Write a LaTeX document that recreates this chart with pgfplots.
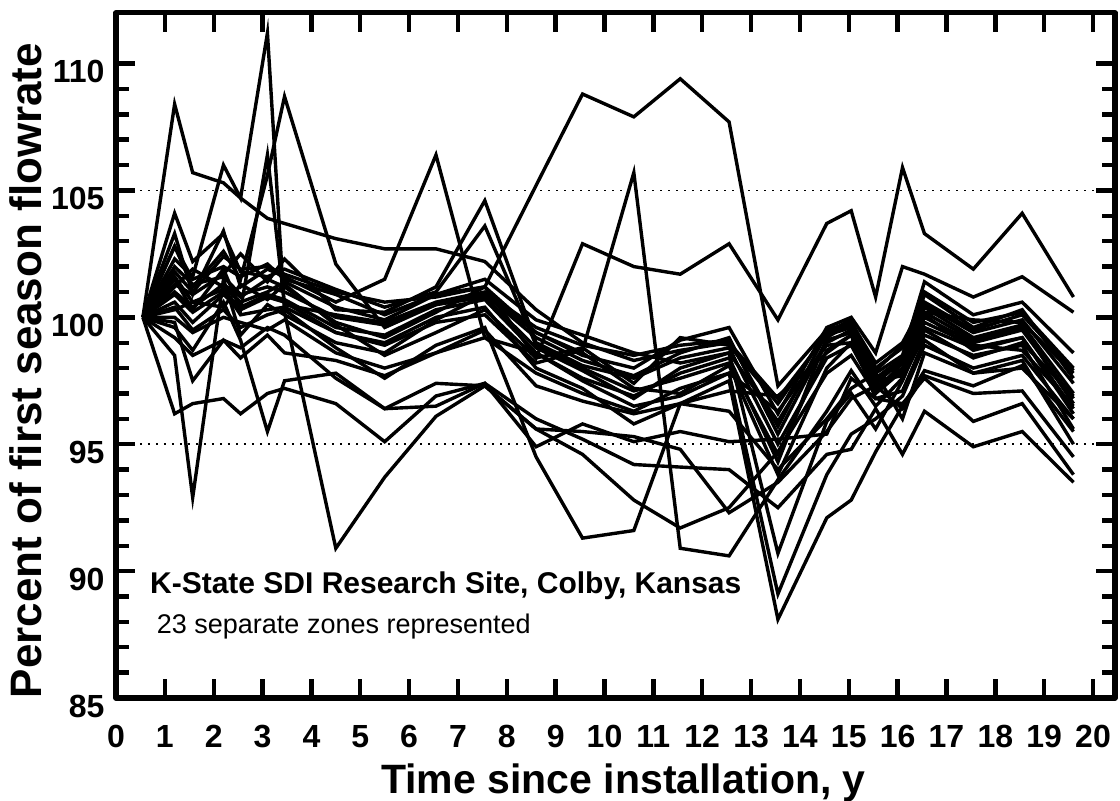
\documentclass[border=0pt]{standalone}
\usepackage{fontspec}
\setmainfont{Liberation Sans}
\usepackage{pgfplots}
\usepackage{pgfplotstable}
\pgfplotsset{compat=1.18}

\pgfplotstableread{
name c0 c1 c2 c3 c4 c5 c6 c7 c8 c9 c10 c11 c12 c13 c14 c15 c16 c17 c18 c19 c20 c21 c22 c23 c24
x 0.55 1.2 1.57 2.2 2.55 3.1 3.45 4.5 5.5 6.55 7.55 8.6 9.55 10.6 11.55 12.55 13.55 14.55 15.05 15.55 16.1 16.55 17.55 18.55 19.6
s1 100 108.4 105.7 105.3 104.7 103.9 103.7 103.1 102.7 102.7 102.2 100.3 99.0 98.3 98.7 99.0 96.8 99.3 99.6 97.6 98.4 100.5 99.4 99.9 97.4
s2 100 102.3 101.6 106.0 104.7 111.2 100.2 90.9 93.7 96.1 97.3 95.6 94.6 92.8 91.7 92.5 94.7 97.8 98.5 97.0 97.9 99.6 98.8 99.2 96.4
s3 100 101.0 100.4 101.3 100.8 101.5 101.2 99.8 99.2 100.2 101.2 105.2 108.8 107.9 109.4 107.7 97.3 99.5 99.8 98.2 99.0 100.6 99.5 100.1 97.9
s4 100 101.8 101.0 102.4 101.9 102.0 101.7 101.0 100.6 100.8 101.2 98.4 102.9 102.0 101.7 102.9 99.9 103.7 104.2 100.8 105.9 103.3 101.9 104.1 100.8
s5 100 100.6 99.8 100.9 100.3 100.8 100.6 99.4 98.9 99.8 100.1 98.2 98.7 105.7 90.9 90.6 93.6 96.3 97.9 96.5 97.6 99.3 98.5 98.9 95.6
s6 100 103.3 100.9 103.4 101.2 101.9 101.6 100.6 101.5 106.4 99.2 98.6 97.6 96.9 97.8 98.4 94.3 99.2 99.8 97.6 98.2 100.4 99.2 99.7 97.0
s7 100 98.5 92.9 101.5 99.3 100.5 100.1 99.0 98.6 99.9 100.9 99.2 98.3 97.7 98.6 99.2 95.4 99.1 99.4 97.2 98.0 100.0 99.0 99.5 96.8
s8 100 96.2 96.6 96.8 96.2 97.0 97.2 96.6 95.1 96.9 97.4 96.0 95.2 94.2 94.1 94.0 92.5 94.6 94.8 96.4 94.6 96.3 94.9 95.5 93.5
s9 100 102.8 101.2 102.6 101.5 105.6 108.7 102.1 99.6 100.5 100.9 99.4 98.6 97.2 97.0 98.1 93.8 98.0 99.0 97.3 97.8 100.2 99.1 99.6 96.6
s10 100 101.5 100.3 101.9 100.3 106.4 100.5 100.1 99.8 100.6 101.0 99.6 98.9 98.5 98.9 99.1 95.7 99.4 99.7 98.0 98.8 101.0 99.8 100.2 98.0
s11 100 99.6 98.7 100.6 99.1 95.5 97.5 97.8 96.4 96.5 97.4 94.9 95.8 95.1 95.5 95.1 95.2 95.4 97.6 96.8 96.6 97.6 95.9 96.6 93.8
s12 100 100.9 100.2 101.0 100.4 100.9 100.7 99.6 99.3 100.3 100.7 98.6 97.5 96.5 96.9 97.8 89.1 93.8 95.4 96.0 96.9 98.9 98.0 98.5 96.0
s13 100 101.6 100.6 101.1 100.1 100.3 100.4 99.4 99.0 100.0 100.4 98.0 97.2 95.8 96.6 97.5 88.1 92.1 92.8 94.7 96.5 97.9 97.3 98.1 95.5
s14 100 102.0 101.3 101.6 100.9 101.2 101.0 100.0 99.7 100.5 100.8 98.8 97.9 96.8 98.0 98.6 90.7 95.9 97.0 95.6 97.5 99.5 98.4 99.0 96.9
s15 100 100.4 99.5 100.3 99.6 100.1 100.3 98.8 97.6 98.9 99.6 94.5 91.3 91.6 96.6 96.3 94.0 96.0 97.2 97.8 96.0 98.6 97.8 98.3 95.0
s16 100 101.2 101.9 101.2 100.6 101.0 101.4 100.4 99.9 100.9 101.2 99.4 98.5 98.0 99.1 99.6 96.2 99.6 100.0 98.6 102.0 101.7 100.8 101.6 100.2
s17 100 104.1 102.2 103.3 101.8 101.6 101.9 101.1 100.4 101.0 103.6 98.9 98.0 97.1 97.6 98.2 94.6 98.7 99.3 97.4 98.3 100.9 99.6 100.3 97.6
s18 100 100.3 100.6 100.4 101.3 100.7 101.3 99.7 98.5 99.4 100.3 98.4 98.8 97.4 99.2 98.9 96.6 99.4 99.9 97.8 98.5 101.4 100.1 100.6 98.6
s19 100 102.8 101.5 102.0 101.6 102.1 101.5 100.9 100.1 100.9 101.5 99.9 99.3 98.6 98.2 98.6 95.9 99.0 99.5 97.9 98.9 100.2 99.9 99.8 97.8
s20 100 99.8 97.5 99.1 98.4 99.3 98.6 98.3 97.7 98.6 99.5 97.3 96.7 96.2 96.6 97.1 96.9 98.6 99.3 96.8 97.1 99.1 97.8 98.0 96.0
s21 100 101.3 100.9 101.7 102.5 101.4 102.3 100.3 100.2 101.2 104.6 99.0 98.1 97.6 98.4 98.8 95.0 98.4 98.9 97.1 98.2 100.1 98.7 99.2 96.2
s22 100 99.2 98.5 99.1 98.8 99.6 99.3 97.6 96.4 97.4 97.3 95.6 95.5 95.3 94.8 92.3 93.5 95.5 96.8 97.3 96.4 97.7 97.0 97.1 94.5
s23 100 100.0 99.4 100.0 99.8 99.5 99.9 98.6 98.0 98.6 99.2 97.8 97.0 96.3 97.2 97.8 96.3 98.9 99.0 97.5 97.7 99.8 98.9 98.7 96.5
}\rawdata
\pgfplotstabletranspose[colnames from=name]\flowdata\rawdata

\begin{document}
\begin{tikzpicture}
\begin{axis}[
  at={(0,0)}, anchor=south west,
  scale only axis, width=499.5pt, height=342.6pt,
  xmin=0, xmax=20.45, ymin=85, ymax=112,
  xtick={0,1,...,20}, ytick={85,90,...,110}, minor y tick num=4,
  tick align=inside,
  major tick length=9.5pt, minor tick length=6.5pt,
  every tick/.style={line width=2.2pt, black},
  major tick style={line width=2.2pt, black},
  minor tick style={line width=2.2pt, black},
  x tick style={line width=2.2pt},
  y tick style={line width=2.2pt},
  axis line style={line width=2.6pt, line join=round},
  ticklabel style={font=\bfseries\fontsize{16}{16}\selectfont},
  /pgf/number format/assume math mode=true,
  yticklabel style={xshift=-2.2pt, yshift=-4pt},
  xticklabel style={yshift=-10pt},
  xlabel={Time since installation, y},
  ylabel={Percent of first season flowrate},
  xlabel style={font=\bfseries\fontsize{20.5}{20.5}\selectfont, at={(axis description cs:0.5,0)}, anchor=base, yshift=-47.5pt, xshift=4pt},
  ylabel style={font=\bfseries\fontsize{22}{22}\selectfont, at={(axis description cs:-0.0741,0.478)}, anchor=base},
  clip=true,
]
\addplot[black, line width=0.8pt, dash pattern=on 0.8pt off 3.2pt] coordinates {(0,95) (20.45,95)};
\addplot[black, line width=0.8pt, dash pattern=on 0.8pt off 3.2pt] coordinates {(0,105) (20.45,105)};
\pgfplotsinvokeforeach{1,...,23}{
  \addplot[black, line width=1.7pt, mark=none] table[x=x, y=s#1] {\flowdata};
}
\node[anchor=base west, inner sep=0pt, font=\bfseries\fontsize{15}{15}\selectfont] at (axis cs:0.69,89.12) {K-State SDI Research Site, Colby, Kansas};
\node[anchor=base west, inner sep=0pt, font=\fontsize{13.5}{13.5}\selectfont] at (axis cs:0.83,87.55) {23 separate zones represented};
\end{axis}
\pgfresetboundingbox
\path (-58pt,-51pt) rectangle (502pt,349pt);
\end{tikzpicture}
\end{document}
